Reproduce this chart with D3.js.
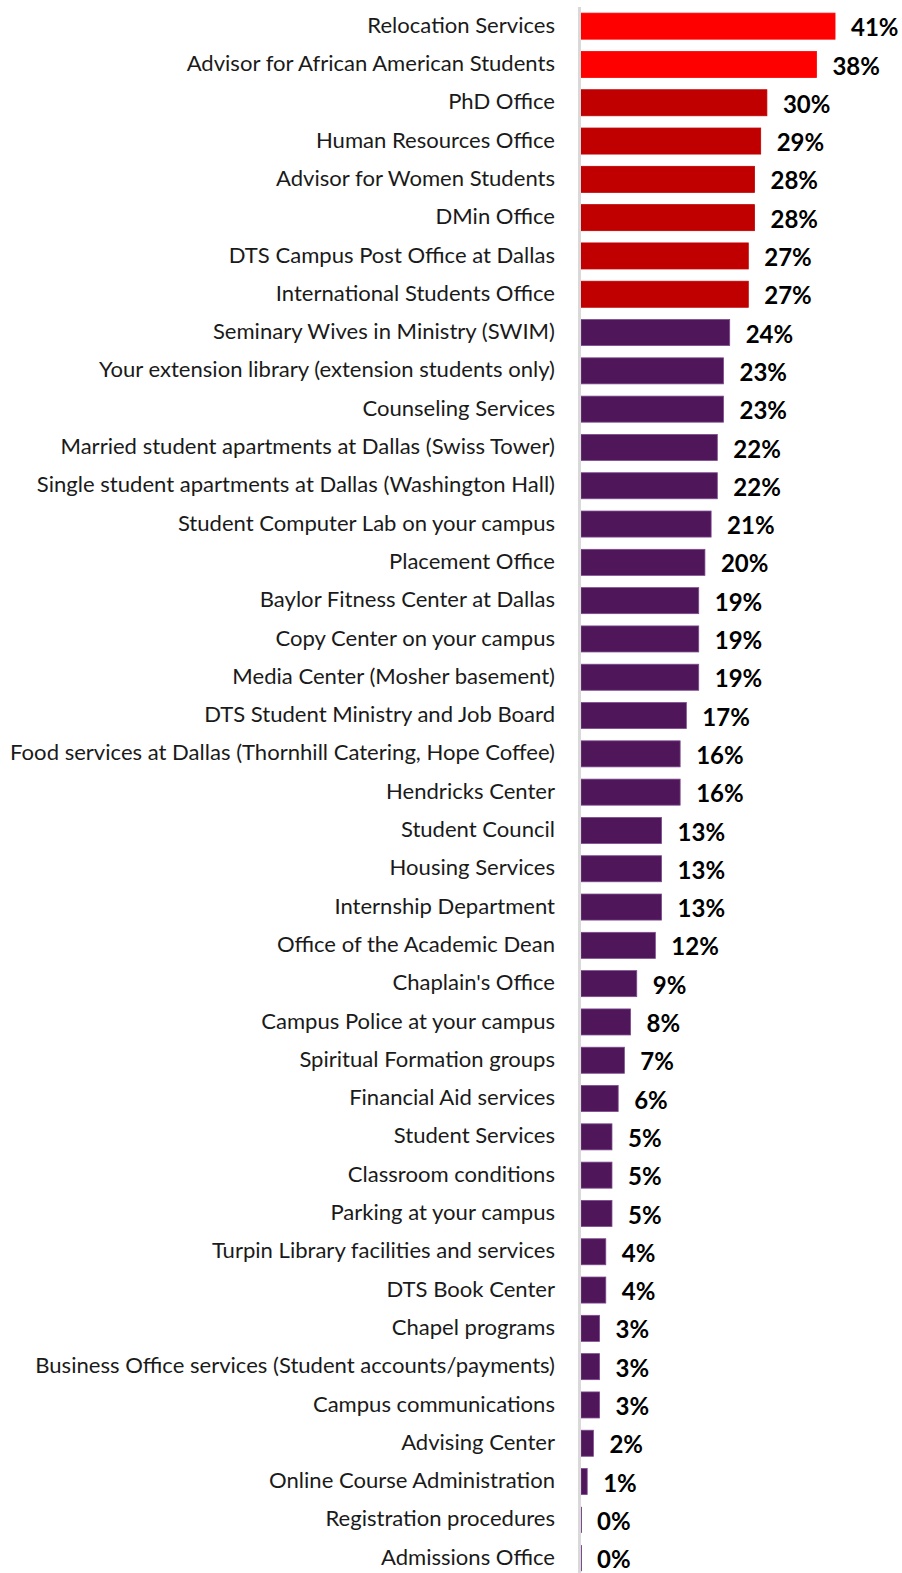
<!DOCTYPE html>
<html>
<head>
<meta charset="utf-8">
<script src="https://cdn.jsdelivr.net/npm/d3@7"></script>
<style>
  html, body { margin: 0; padding: 0; background: #fff; }
  svg { display: block; }
</style>
</head>
<body>
<svg id="chart" width="902" height="1573"></svg>
<script>
// Services ranked by share of respondents (%)
const categories = [
  "Relocation Services",
  "Advisor for African American Students",
  "PhD Office",
  "Human Resources Office",
  "Advisor for Women Students",
  "DMin Office",
  "DTS Campus Post Office at Dallas",
  "International Students Office",
  "Seminary Wives in Ministry (SWIM)",
  "Your extension library (extension students only)",
  "Counseling Services",
  "Married student apartments at Dallas (Swiss Tower)",
  "Single student apartments at Dallas (Washington Hall)",
  "Student Computer Lab on your campus",
  "Placement Office",
  "Baylor Fitness Center at Dallas",
  "Copy Center on your campus",
  "Media Center (Mosher basement)",
  "DTS Student Ministry and Job Board",
  "Food services at Dallas (Thornhill Catering, Hope Coffee)",
  "Hendricks Center",
  "Student Council",
  "Housing Services",
  "Internship Department",
  "Office of the Academic Dean",
  "Chaplain's Office",
  "Campus Police at your campus",
  "Spiritual Formation groups",
  "Financial Aid services",
  "Student Services",
  "Classroom conditions",
  "Parking at your campus",
  "Turpin Library facilities and services",
  "DTS Book Center",
  "Chapel programs",
  "Business Office services (Student accounts/payments)",
  "Campus communications",
  "Advising Center",
  "Online Course Administration",
  "Registration procedures",
  "Admissions Office"
];

const values = [
  41, 38, 30, 29, 28, 28, 27, 27, 24, 23, 23, 22, 22, 21, 20, 19, 19, 19, 17, 16, 16,
  13, 13, 13, 12, 9, 8, 7, 6, 5, 5, 5, 4, 4, 3, 3, 3, 2, 1, 0, 0
];

// Colour group per bar: top tier, second tier, rest
const tiers = [
  "high", "high", "mid", "mid", "mid", "mid", "mid", "mid",
  "low", "low", "low", "low", "low", "low", "low", "low", "low", "low", "low", "low", "low",
  "low", "low", "low", "low", "low", "low", "low", "low", "low", "low", "low", "low", "low",
  "low", "low", "low", "low", "low", "low", "low"
];

const data = categories.map((c, i) => ({ name: c, value: values[i], tier: tiers[i] }));

const fill = { high: "#ff0000", mid: "#c00000", low: "#4f1659" };
const edge = { high: "#ff0000", mid: "#c00000", low: "#7d4a8f" };

const svg = d3.select("#chart");
const H = 1573;
const axisX = 579.5;

const x = d3.scaleLinear().domain([0, 50]).range([581, 581 + 309.8]);
const y = d3.scaleBand()
  .domain(categories)
  .range([7, 7 + 38.3 * categories.length])
  .paddingInner(0.32)
  .paddingOuter(0.16);

// Bars (zero-valued rows keep a hairline so the row stays marked)
svg.append("g").selectAll("rect")
  .data(data)
  .join("rect")
  .attr("x", x(0))
  .attr("y", d => y(d.name))
  .attr("width", d => Math.max(x(d.value) - x(0), 1))
  .attr("height", y.bandwidth())
  .attr("fill", d => d.value === 0 ? edge[d.tier] : fill[d.tier])
  .attr("stroke", d => d.value === 0 ? "none" : edge[d.tier])
  .attr("stroke-width", 0.8);

// Vertical baseline
svg.append("line")
  .attr("x1", axisX).attr("x2", axisX)
  .attr("y1", 7).attr("y2", H)
  .attr("stroke", "#d9d9d9")
  .attr("stroke-width", 3);

// Category axis labels
const yAxis = d3.axisLeft(y).tickSize(0).tickPadding(0);
const gy = svg.append("g")
  .attr("transform", "translate(555,0)")
  .call(yAxis);
gy.select(".domain").remove();
gy.selectAll("text")
  .attr("fill", "#1a1a1a")
  .attr("font-family", "Lato, 'Open Sans', sans-serif")
  .attr("font-size", 20)
  .attr("dy", "0.3em");

// Fit the longest label to its column width
let maxW = 0;
gy.selectAll("text").each(function () { maxW = Math.max(maxW, this.getComputedTextLength()); });
const fitted = 20 * 545 / maxW;
gy.selectAll("text").attr("font-size", fitted.toFixed(2));

// Value labels
svg.append("g").selectAll("text")
  .data(data)
  .join("text")
  .attr("x", d => x(d.value) + 16)
  .attr("y", d => y(d.name) + y.bandwidth() / 2)
  .attr("dy", "0.42em")
  .attr("font-family", "Lato, 'Open Sans', sans-serif")
  .attr("font-weight", "bold")
  .attr("font-size", 24)
  .attr("fill", "#000")
  .text(d => d.value + "%");
</script>
</body>
</html>
